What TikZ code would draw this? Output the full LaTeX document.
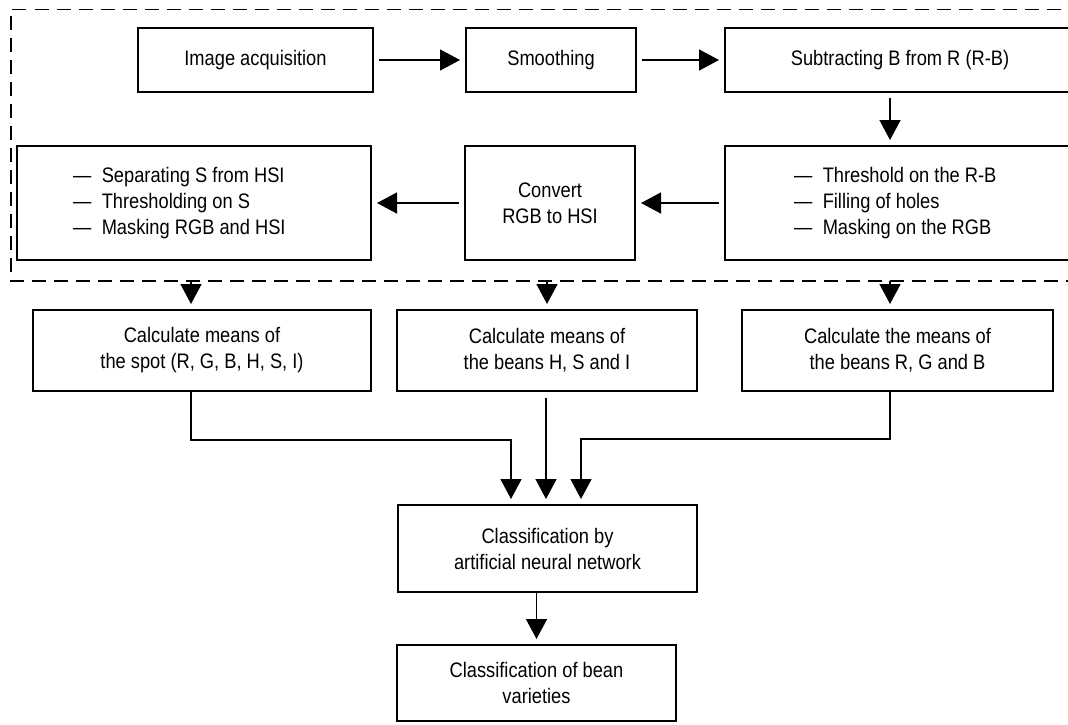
\documentclass[tikz,border=0pt]{standalone}
\usepackage{fontspec}
\setmainfont{Liberation Sans}[FakeStretch=0.87]
\usetikzlibrary{arrows.meta}
\newcommand{\listitem}{\textemdash\enspace}

\begin{document}
\begin{tikzpicture}[x=0.5pt, y=-0.5pt,
    box/.style={draw, line width=1pt, inner sep=0pt, align=center,
      font=\fontsize{10.5pt}{13pt}\selectfont},
    listbox/.style={box, align=left, minimum height=57pt},
    arr/.style={line width=0.75pt, -{Triangle[length=10pt, width=10.5pt]},
      shorten <=2.5pt, shorten >=2.5pt},
    frame/.style={line width=0.75pt, dash pattern=on 7pt off 4pt}]
  \clip (0,0) rectangle (1068,724);
  % preprocessing steps inside the dashed frame
  \node[box, minimum width=117.5pt, minimum height=32pt] (acq) at (255.5,60) {Image acquisition};
  \node[box, minimum width=85pt, minimum height=32pt] (smooth) at (551,60) {Smoothing};
  \node[box, minimum width=175pt, minimum height=32pt] (sub) at (900,60) {Subtracting B from R (R-B)};
  \node[listbox, inner xsep=34.5pt, text width=106pt] (thr) at (900,203)
    {\spaceskip=0pt\xspaceskip=0pt
     \listitem Threshold on the R-B\\ \listitem Filling of holes\\ \listitem Masking on the RGB};
  \node[box, minimum width=85pt, minimum height=57pt] (conv) at (550,203) {Convert\\ RGB to HSI};
  \node[listbox, inner xsep=28pt, text width=121pt] (sep) at (194,203)
    {\spaceskip=0pt\xspaceskip=0pt
     \listitem Separating S from HSI\\ \listitem Thresholding on S\\ \listitem Masking RGB and HSI};
  \draw[frame] (1080,281) -| (11,9.5) -- (1080,9.5);
  % means
  \node[box, minimum width=169pt, minimum height=40.5pt] (spot) at (202,350.5) {Calculate means of\\ the spot (R, G, B, H, S, I)};
  \node[box, minimum width=150pt, minimum height=40.5pt] (hsi) at (547,350.5) {Calculate means of\\ the beans H, S and I};
  \node[box, minimum width=155.5pt, minimum height=40.5pt] (rgb) at (897.5,350.5) {Calculate the means of\\ the beans R, G and B};
  % classification
  \node[box, minimum width=149.5pt, minimum height=43.5pt] (ann) at (547.5,548.5) {Classification by\\ artificial neural network};
  \node[box, minimum width=139.5pt, minimum height=38pt] (var) at (536.5,683) {Classification of bean\\ varieties};
  \coordinate (d1) at (191,281);
  \coordinate (d2) at (547,281);
  \coordinate (d3) at (890,281);
  \coordinate (j1) at (511,440);
  \coordinate (j2) at (546,398);
  \coordinate (j3) at (581,439);
  \draw[arr] (acq) -- (smooth);
  \draw[arr] (smooth) -- (smooth -| sub.west);
  \draw[arr] (sub.south -| d3) -- (thr.north -| d3);
  \draw[arr] (thr) -- (conv);
  \draw[arr] (conv) -- (sep);
  \foreach \d/\b in {d1/spot, d2/hsi, d3/rgb}
    \draw[arr, shorten <=0pt] (\d) -- (\d |- \b.north);
  % joining the three means
  \draw[arr, shorten <=0pt] (d1 |- spot.south) |- (j1) -- (j1 |- ann.north);
  \draw[arr, shorten <=0pt] (j2) -- (j2 |- ann.north);
  \draw[arr, shorten <=0pt] (d3 |- rgb.south) |- (j3) -- (j3 |- ann.north);
  \draw[arr, shorten <=0pt] (ann.south -| var) -- (var.north);
\end{tikzpicture}
\end{document}
